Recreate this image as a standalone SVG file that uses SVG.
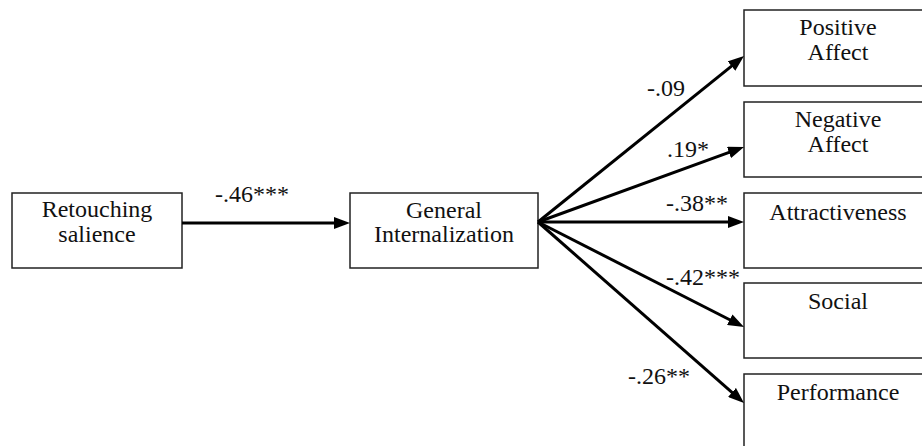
<svg xmlns="http://www.w3.org/2000/svg" width="922" height="446" viewBox="0 0 922 446" font-family="Liberation Serif, DejaVu Serif, serif" font-size="24">
<style>
.box{fill:#fff;stroke:#222;stroke-width:1.5}
.t{font-family:"Liberation Serif","DejaVu Serif",serif;font-size:24px;fill:#111}
.c{text-anchor:middle}
.edge{stroke:#000;stroke-width:3;fill:none}
</style>
<defs>
<marker id="ah" markerUnits="userSpaceOnUse" markerWidth="16" markerHeight="12" viewBox="0 0 16 12" refX="6" refY="6" orient="auto">
<path d="M0,0 L16,6 L0,12 z" fill="#000"/>
</marker>
</defs>
<rect width="922" height="446" fill="#fff"/>
<g id="retouching">
<rect class="box" x="12" y="193" width="170" height="75"/>
<text class="t c" x="97" y="217">Retouching</text>
<text class="t c" x="97" y="242">salience</text>
</g>
<g id="general">
<rect class="box" x="350" y="193" width="188" height="75"/>
<text class="t c" x="444" y="218">General</text>
<text class="t c" x="444" y="242">Internalization</text>
</g>
<g id="positive">
<rect class="box" x="744" y="10" width="188" height="76"/>
<text class="t c" x="838" y="35">Positive</text>
<text class="t c" x="838" y="60">Affect</text>
</g>
<g id="negative">
<rect class="box" x="744" y="102" width="188" height="75"/>
<text class="t c" x="838" y="127">Negative</text>
<text class="t c" x="838" y="152">Affect</text>
</g>
<g id="attractiveness">
<rect class="box" x="744" y="193" width="188" height="75"/>
<text class="t c" x="838" y="220">Attractiveness</text>
</g>
<g id="social">
<rect class="box" x="744" y="283" width="188" height="75"/>
<text class="t c" x="838" y="309">Social</text>
</g>
<g id="performance">
<rect class="box" x="744" y="374" width="188" height="80"/>
<text class="t c" x="838" y="400">Performance</text>
</g>
<g id="connectors">
<line class="edge" x1="182" y1="223" x2="340" y2="223" marker-end="url(#ah)"/>
<line class="edge" x1="538" y1="222" x2="736.2" y2="62.3" marker-end="url(#ah)"/>
<line class="edge" x1="538" y1="222" x2="734.6" y2="150.4" marker-end="url(#ah)"/>
<line class="edge" x1="538" y1="222" x2="734" y2="222" marker-end="url(#ah)"/>
<line class="edge" x1="538" y1="222" x2="735.1" y2="322.5" marker-end="url(#ah)"/>
<line class="edge" x1="538" y1="222" x2="736.5" y2="396.4" marker-end="url(#ah)"/>
</g>
<g id="labels">
<text class="t" x="215" y="202">-.46***</text>
<text class="t" x="647" y="96">-.09</text>
<text class="t" x="667" y="157">.19*</text>
<text class="t" x="666" y="211">-.38**</text>
<text class="t" x="666" y="285">-.42***</text>
<text class="t" x="628" y="384">-.26**</text>
</g>
</svg>
